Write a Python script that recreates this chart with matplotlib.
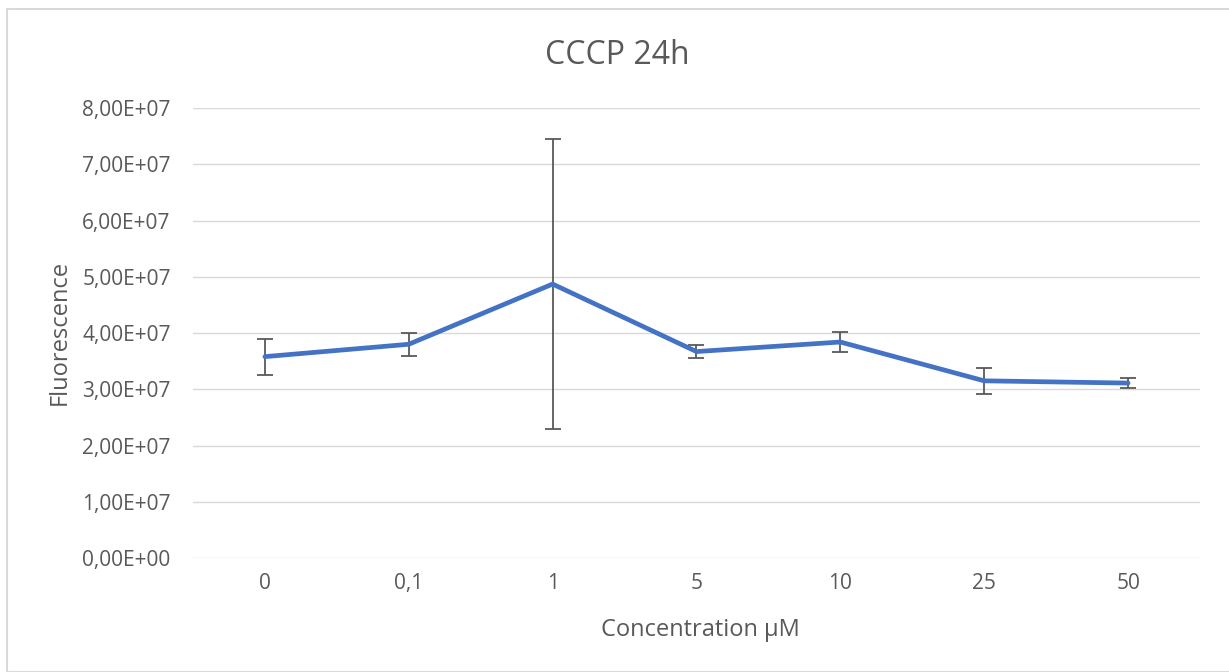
import matplotlib.pyplot as plt
from matplotlib.patches import Rectangle
from matplotlib.ticker import FuncFormatter

# data
concentrations = ["0", "0,1", "1", "5", "10", "25", "50"]
fluorescence = [3.58e7, 3.80e7, 4.87e7, 3.67e7, 3.84e7, 3.15e7, 3.11e7]
errors = [0.32e7, 0.20e7, 2.57e7, 0.11e7, 0.17e7, 0.23e7, 0.09e7]

plt.rcParams['font.family'] = ['Open Sans', 'DejaVu Sans']
grey = '#595959'

fig = plt.figure(figsize=(12.29, 6.72), dpi=100)
ax = fig.add_axes([0.157, 0.1696, 0.8194, 0.6697])

x = list(range(len(concentrations)))
ax.errorbar(x, fluorescence, yerr=errors, fmt='none', ecolor=grey,
            elinewidth=1.3, capsize=6, capthick=1.3, zorder=2)
ax.plot(x, fluorescence, color='#4472C4', linewidth=3.4,
        solid_capstyle='round', solid_joinstyle='round', zorder=3)

ax.set_xlim(-0.5, len(concentrations) - 0.5)
ax.set_ylim(0, 8e7)
ax.set_yticks([i * 1e7 for i in range(9)])
ax.yaxis.set_major_formatter(FuncFormatter(
    lambda v, p: f"{v / 1e7:.2f}".replace('.', ',') + "E+07" if v > 0 else "0,00E+00"))
ax.set_xticks(x)
ax.set_xticklabels(concentrations)

ax.grid(axis='y', color='#D9D9D9', linewidth=1)
ax.set_axisbelow(True)
for s in ax.spines.values():
    s.set_visible(False)
ax.tick_params(length=0, labelsize=15, colors=grey)
ax.tick_params(axis='y', pad=16)
ax.tick_params(axis='x', pad=11)

fig.text(617.5 / 1229, 1 - 55 / 672, "CCCP 24h", fontsize=23, color=grey,
         ha='center', va='center')
fig.text(700 / 1229, 1 - 630 / 672, "Concentration µM", fontsize=17, color=grey,
         ha='center', va='center')
fig.text(60 / 1229, 1 - 332 / 672, "Fluorescence", fontsize=17, color=grey,
         ha='center', va='center', rotation=90)

fig.patches.append(Rectangle((7 / 1229, 0), 1.0, 1 - 9 / 672, transform=fig.transFigure,
                             fill=False, edgecolor='#D9D9D9', linewidth=1.5))

fig.savefig("out.png", dpi=100)
